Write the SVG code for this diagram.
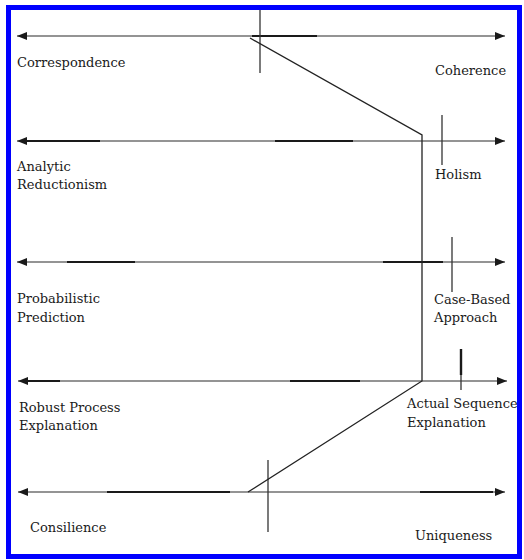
<svg xmlns="http://www.w3.org/2000/svg" width="524" height="560" viewBox="0 0 524 560">
<style>
.ax{stroke:#2a2a2a;stroke-width:1.2;fill:none}
.th{stroke:#1a1a1a;stroke-width:2.2;fill:none}
.tk{stroke:#333;stroke-width:1.3;fill:none}
.pth{stroke:#222;stroke-width:1.3;fill:none}
text{font-family:"DejaVu Serif","Liberation Serif",serif;font-size:13px;fill:#1a1a1a}
</style>
<defs>
<marker id="ah" viewBox="0 0 10 8" refX="10" refY="4" markerWidth="11" markerHeight="8" markerUnits="userSpaceOnUse" orient="auto-start-reverse">
<path d="M0,0 L10,4 L0,8 Z" fill="#1a1a1a"/>
</marker>
</defs>
<rect x="0" y="0" width="524" height="560" fill="#fff"/>
<rect x="8.5" y="7.5" width="511" height="549" fill="none" stroke="#0000ff" stroke-width="5"/>

<g id="axis-correspondence-coherence">
<line class="ax" x1="17" y1="36" x2="505" y2="36" marker-start="url(#ah)" marker-end="url(#ah)"/>
<line class="th" x1="252" y1="36" x2="317" y2="36"/>
<line class="tk" x1="260" y1="10" x2="260" y2="73"/>
<text x="17" y="67">Correspondence</text>
<text x="435" y="75">Coherence</text>
</g>

<g id="axis-reductionism-holism">
<line class="ax" x1="17" y1="141" x2="505" y2="141" marker-start="url(#ah)" marker-end="url(#ah)"/>
<line class="th" x1="22" y1="141" x2="100" y2="141"/>
<line class="th" x1="275" y1="141" x2="353" y2="141"/>
<line class="tk" x1="442" y1="115" x2="442" y2="165"/>
<text x="17" y="171">Analytic</text>
<text x="17" y="189">Reductionism</text>
<text x="435" y="179">Holism</text>
</g>

<g id="axis-prediction-casebased">
<line class="ax" x1="17" y1="262" x2="505" y2="262" marker-start="url(#ah)" marker-end="url(#ah)"/>
<line class="th" x1="67" y1="262" x2="135" y2="262"/>
<line class="th" x1="383" y1="262" x2="443" y2="262"/>
<line class="tk" x1="452" y1="237" x2="452" y2="292"/>
<text x="17" y="303">Probabilistic</text>
<text x="17" y="322">Prediction</text>
<text x="434" y="304">Case-Based</text>
<text x="434" y="322">Approach</text>
</g>

<g id="axis-robust-actual">
<line class="ax" x1="18" y1="381" x2="507" y2="381" marker-start="url(#ah)" marker-end="url(#ah)"/>
<line class="th" x1="22" y1="381" x2="60" y2="381"/>
<line class="th" x1="290" y1="381" x2="360" y2="381"/>
<line class="tk" x1="461" y1="349" x2="461" y2="390"/>
<line stroke="#1a1a1a" stroke-width="2.4" x1="461" y1="349" x2="461" y2="375"/>
<text x="19" y="412">Robust Process</text>
<text x="19" y="430">Explanation</text>
<text x="407" y="408">Actual Sequence</text>
<text x="407" y="427">Explanation</text>
</g>

<g id="axis-consilience-uniqueness">
<line class="ax" x1="18" y1="492" x2="505" y2="492" marker-start="url(#ah)" marker-end="url(#ah)"/>
<line class="th" x1="107" y1="492" x2="230" y2="492"/>
<line class="th" x1="420" y1="492" x2="493" y2="492"/>
<line class="tk" x1="268" y1="460" x2="268" y2="532"/>
<text x="30" y="532">Consilience</text>
<text x="415" y="540">Uniqueness</text>
</g>

<g id="connectors">
<path class="pth" d="M250,38 L422,135 L422,381 L248,492"/>
</g>
</svg>
